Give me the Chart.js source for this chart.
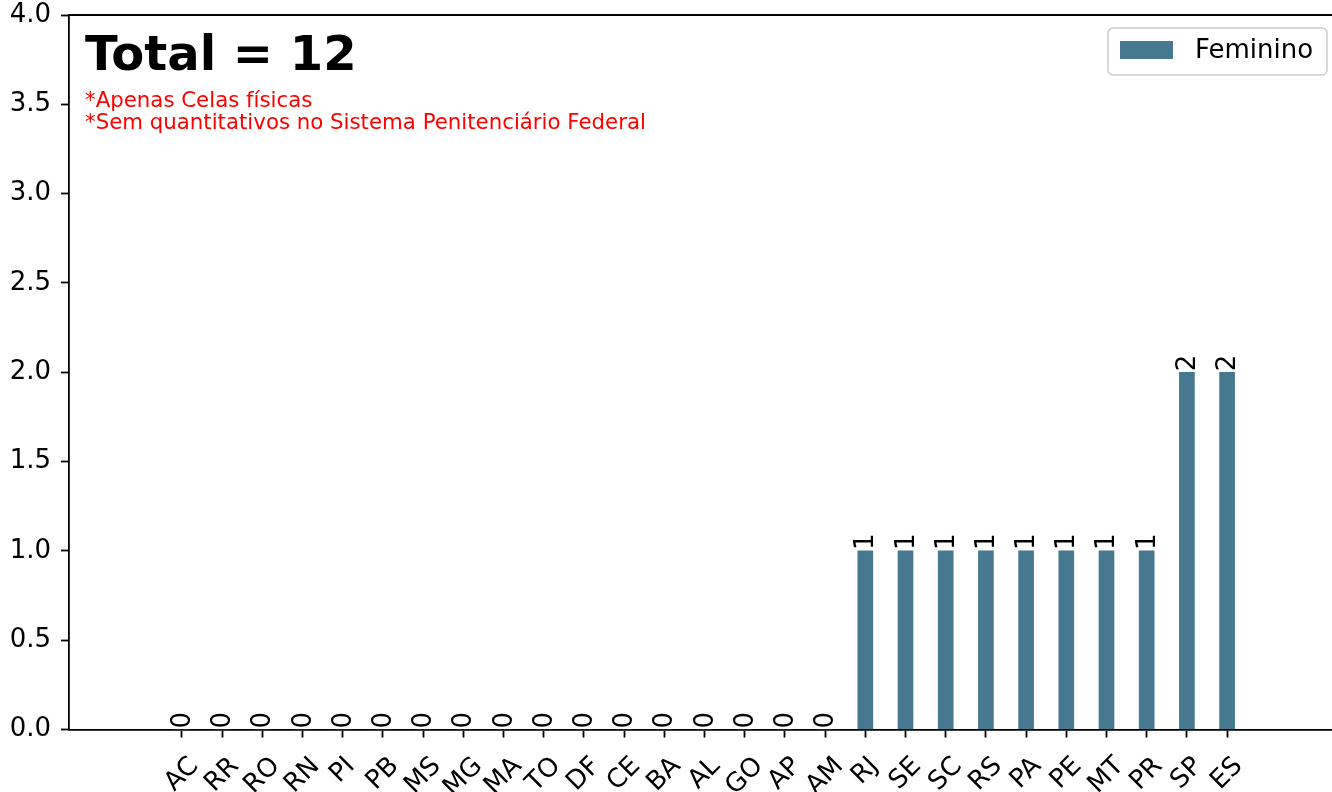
<!DOCTYPE html>
<html>
<head>
<meta charset="utf-8">
<script src="https://cdn.jsdelivr.net/npm/chart.js@4.4.1/dist/chart.umd.min.js"></script>
<style>
  body { margin: 0; background: #fff; }
  #wrap { width: 1332px; height: 792px; }
</style>
</head>
<body>
<div id="wrap"><canvas id="chart" width="1332" height="792"></canvas></div>
<script>
// dados
const estados = ['AC', 'RR', 'RO', 'RN', 'PI', 'PB', 'MS', 'MG', 'MA', 'TO', 'DF', 'CE', 'BA', 'AL',
    'GO', 'AP', 'AM', 'RJ', 'SE', 'SC', 'RS', 'PA', 'PE', 'MT', 'PR', 'SP', 'ES'];
const feminino = [0, 0, 0, 0, 0, 0, 0, 0, 0, 0, 0, 0, 0, 0, 0, 0, 0, 1, 1, 1, 1, 1, 1, 1, 1, 2, 2];
const yTicks = [0, 0.5, 1, 1.5, 2, 2.5, 3, 3.5, 4];
const notas = ['*Apenas Celas físicas', '*Sem quantitativos no Sistema Penitenciário Federal'];
const total = feminino.reduce((a, b) => a + b, 0);

const FONT = "'DejaVu Sans', sans-serif";
const barColor = '#46788f';

// textos, rótulos e legenda desenhados por cima
const extras = {
    id: 'extras',
    afterDraw(chart) {
        const ctx = chart.ctx;
        const area = chart.chartArea;
        const xs = chart.scales.x;

        ctx.save();
        // spine superior
        ctx.strokeStyle = '#000';
        ctx.lineWidth = 1.8;
        ctx.beginPath();
        ctx.moveTo(area.left, area.top);
        ctx.lineTo(area.right, area.top);
        ctx.stroke();

        // rótulos do eixo x (rotacionados 45°, centrados no tick)
        ctx.fillStyle = '#000';
        ctx.font = '26px ' + FONT;
        ctx.textAlign = 'center';
        ctx.textBaseline = 'middle';
        xs.ticks.forEach(t => {
            const label = estados[t.value];
            if (label === undefined) return;
            const px = xs.getPixelForValue(t.value);
            const w = ctx.measureText(label).width;
            const cy = xs.top + 22 + (w + 30) * 0.3536;
            ctx.save();
            ctx.translate(px, cy);
            ctx.rotate(-Math.PI / 4);
            ctx.fillText(label, 0, 0);
            ctx.restore();
        });

        // valores em cima das barras (texto vertical)
        const meta = chart.getDatasetMeta(0);
        ctx.textAlign = 'left';
        ctx.textBaseline = 'alphabetic';
        meta.data.forEach((bar, i) => {
            ctx.save();
            ctx.translate(bar.x + 8, bar.y - 1);
            ctx.rotate(-Math.PI / 2);
            ctx.fillText(String(feminino[i]), 0, 0);
            ctx.restore();
        });

        // título e notas
        ctx.font = 'bold 48px ' + FONT;
        ctx.fillText('Total = ' + total, area.left + 16, area.top + 55);
        ctx.fillStyle = 'red';
        ctx.font = '21.3px ' + FONT;
        notas.forEach((n, k) => ctx.fillText(n, area.left + 16, area.top + 92 + k * 22));

        // legenda
        const lx = 1108, ly = 28, lw = 219, lh = 47;
        ctx.fillStyle = 'rgba(255,255,255,0.8)';
        ctx.strokeStyle = '#cccccc';
        ctx.lineWidth = 1.5;
        ctx.beginPath();
        ctx.roundRect(lx, ly, lw, lh, 5);
        ctx.fill();
        ctx.stroke();
        ctx.fillStyle = chart.data.datasets[0].backgroundColor;
        ctx.fillRect(lx + 12, ly + 13, 53, 18);
        ctx.fillStyle = '#000';
        ctx.font = '26px ' + FONT;
        ctx.textBaseline = 'middle';
        ctx.fillText(chart.data.datasets[0].label, lx + 87, ly + 23);
        ctx.restore();
    }
};

new Chart(document.getElementById('chart'), {
    type: 'bar',
    data: {
        datasets: [{
            label: 'Feminino',
            data: feminino.map((v, i) => ({ x: i, y: v })),
            backgroundColor: barColor,
            barThickness: 15,
        }]
    },
    options: {
        responsive: false,
        animation: false,
        devicePixelRatio: 1,
        layout: { padding: { top: 15, right: 0, bottom: 0, left: 0 } },
        plugins: { legend: { display: false }, tooltip: { enabled: false } },
        scales: {
            x: {
                type: 'linear',
                min: -2.81,
                max: 28.61,
                offset: false,
                afterBuildTicks: s => { s.ticks = estados.map((e, i) => ({ value: i })); },
                afterFit: s => { s.height = 62.5; s.paddingLeft = 0; s.paddingRight = 0; },
                ticks: { display: false },
                grid: { display: true, offset: false, drawOnChartArea: false, drawTicks: true,
                    tickLength: 8, tickColor: '#000', tickWidth: 1.8 },
                border: { display: true, color: '#000', width: 1.8 }
            },
            y: {
                min: 0,
                max: 4,
                afterBuildTicks: s => { s.ticks = yTicks.map(v => ({ value: v })); },
                afterFit: s => { s.width = 69; s.paddingTop = 0; s.paddingBottom = 0; },
                ticks: {
                    color: '#000',
                    padding: 10,
                    font: { family: FONT, size: 26 },
                    callback: v => Number(v).toFixed(1)
                },
                grid: { display: true, drawOnChartArea: false, drawTicks: true,
                    tickLength: 8, tickColor: '#000', tickWidth: 1.8 },
                border: { display: true, color: '#000', width: 1.8 }
            }
        }
    },
    plugins: [extras]
});
</script>
</body>
</html>
